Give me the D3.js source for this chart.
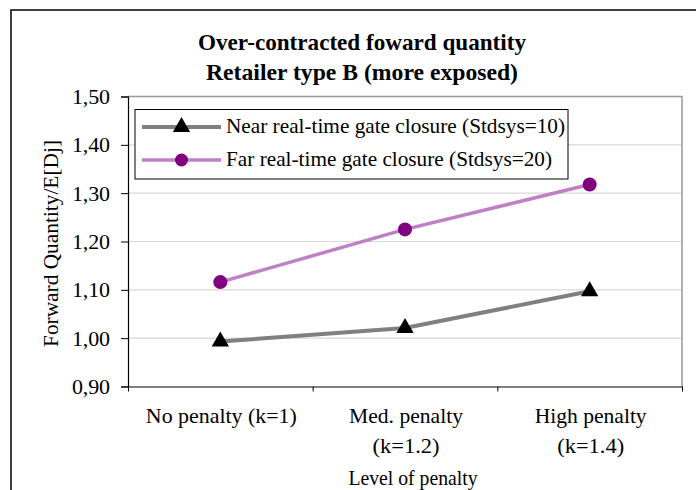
<!DOCTYPE html>
<html><head><meta charset="utf-8">
<script src="https://cdn.jsdelivr.net/npm/d3@7"></script>
<style>
html,body{margin:0;padding:0;background:#fff;}
svg{display:block;font-family:"Liberation Serif","Times New Roman",serif;}
</style></head>
<body><svg id="c" width="696" height="490"></svg>
<script>
const categories = [["No penalty (k=1)"], ["Med. penalty", "(k=1.2)"], ["High penalty", "(k=1.4)"]];
const nearValues = [0.993, 1.021, 1.097];
const farValues = [1.116, 1.225, 1.318];
const seriesNames = ["Near real-time gate closure (Stdsys=10)", "Far real-time gate closure (Stdsys=20)"];
const yTicks = [0.90, 1.00, 1.10, 1.20, 1.30, 1.40, 1.50];
const titleLines = ["Over-contracted foward quantity", "Retailer type B (more exposed)"];
const yTitle = "Forward Quantity/E[Dj]";
const xTitle = "Level of penalty";

const svg = d3.select("#c");
const L = 128, R = 682, T = 96.5, B = 386.5;

// outer frame
svg.append("path").attr("d", "M11,491 V10 H697").attr("fill","none").attr("stroke","#000").attr("stroke-width",1.5);

const x = d3.scaleBand().domain(d3.range(categories.length)).range([L, R]);
const y = d3.scaleLinear().domain([0.9, 1.5]).range([B, T]);
const fmt = v => v.toFixed(2).replace(".", ",");

// gridlines
svg.append("g").selectAll("line").data(yTicks.slice(1, -1)).join("line")
  .attr("x1", L).attr("x2", R).attr("y1", d => y(d)).attr("y2", d => y(d))
  .attr("stroke", "#d9d9d9").attr("stroke-width", 1.2);

// plot border (top/right gray)
svg.append("path").attr("d", `M${L},${T} H${R} V${B}`).attr("fill","none").attr("stroke","#999").attr("stroke-width",1.5);

// y axis
const yAxis = svg.append("g").attr("transform", `translate(${L},0)`)
  .call(d3.axisLeft(y).tickValues(yTicks).tickFormat(fmt).tickSize(7).tickPadding(11));
yAxis.select(".domain").attr("stroke","#000").attr("stroke-width",1.2);
yAxis.selectAll(".tick line").attr("stroke","#000");
yAxis.selectAll(".tick text").attr("font-size", 22).attr("fill","#000").attr("font-family","Liberation Serif")
  .attr("textLength", 38);

// x axis
const xb = d3.scaleLinear().domain([0, categories.length]).range([L, R]);
const xAxis = svg.append("g").attr("transform", `translate(0,${B})`)
  .call(d3.axisBottom(xb).tickValues(d3.range(categories.length + 1)).tickFormat("").tickSize(5).tickSizeOuter(0));
xAxis.select(".domain").attr("stroke","#000").attr("stroke-width",1.2);
xAxis.selectAll(".tick line").attr("stroke","#000");

// x labels
const xLabelW = [[151], [114, 67], [112, 67]];
categories.forEach((lines, i) => {
  lines.forEach((ln, j) => svg.append("text").attr("text-anchor","middle").attr("font-size",21)
    .attr("x", x(i) + x.bandwidth()/2 + 1).attr("y", 423 + j*30)
    .attr("textLength", xLabelW[i][j]).attr("lengthAdjust","spacingAndGlyphs").text(ln));
});

svg.append("text").attr("x", 413).attr("y", 485).attr("text-anchor","middle").attr("font-size",21)
  .attr("textLength", 129).attr("lengthAdjust","spacingAndGlyphs").text(xTitle);

svg.append("text").attr("transform","translate(58,243.5) rotate(-90)").attr("text-anchor","middle")
  .attr("font-size",21).attr("textLength", 207).attr("lengthAdjust","spacingAndGlyphs").text(yTitle);

// title
const titleW = [328, 312];
titleLines.forEach((t, i) => {
  svg.append("text").attr("x", 362).attr("y", 50 + i*30).attr("text-anchor","middle")
    .attr("font-size", 24).attr("font-weight","bold").attr("textLength", titleW[i])
    .attr("lengthAdjust","spacingAndGlyphs").text(t);
});

const cx = i => x(i) + x.bandwidth()/2;
const line = d3.line().x((d, i) => cx(i)).y(d => y(d));

// legend
const lg = svg.append("g");
lg.append("rect").attr("x",135).attr("y",109.5).attr("width",433).attr("height",69.5).attr("fill","#fff").attr("stroke","#000").attr("stroke-width",1);

// series
svg.append("path").datum(nearValues).attr("d", line).attr("fill","none").attr("stroke","#808080").attr("stroke-width",4);
svg.append("path").datum(farValues).attr("d", line).attr("fill","none").attr("stroke","#c080c8").attr("stroke-width",3.5);

const tri = d3.symbol().type(d3.symbolTriangle).size(130);
svg.append("g").selectAll("path").data(nearValues).join("path")
  .attr("transform", (d, i) => `translate(${cx(i)},${y(d)})`).attr("d", tri).attr("fill","#000");
svg.append("g").selectAll("circle").data(farValues).join("circle")
  .attr("cx", (d, i) => cx(i)).attr("cy", d => y(d)).attr("r", 7).attr("fill","#800080");

// legend entries
const ly = [127, 160];
const legW = [339, 326];
lg.append("line").attr("x1",142).attr("x2",221).attr("y1",ly[0]).attr("y2",ly[0]).attr("stroke","#808080").attr("stroke-width",4);
lg.append("path").attr("transform",`translate(181.5,${ly[0]})`).attr("d", tri).attr("fill","#000");
lg.append("line").attr("x1",142).attr("x2",221).attr("y1",ly[1]).attr("y2",ly[1]).attr("stroke","#c080c8").attr("stroke-width",3.5);
lg.append("circle").attr("cx",181.5).attr("cy",ly[1]).attr("r",6.5).attr("fill","#800080");
seriesNames.forEach((n, i) => {
  lg.append("text").attr("x", 226).attr("y", ly[i] + 6).attr("font-size", 21)
    .attr("textLength", legW[i]).attr("lengthAdjust","spacingAndGlyphs").text(n);
});
</script></body></html>
